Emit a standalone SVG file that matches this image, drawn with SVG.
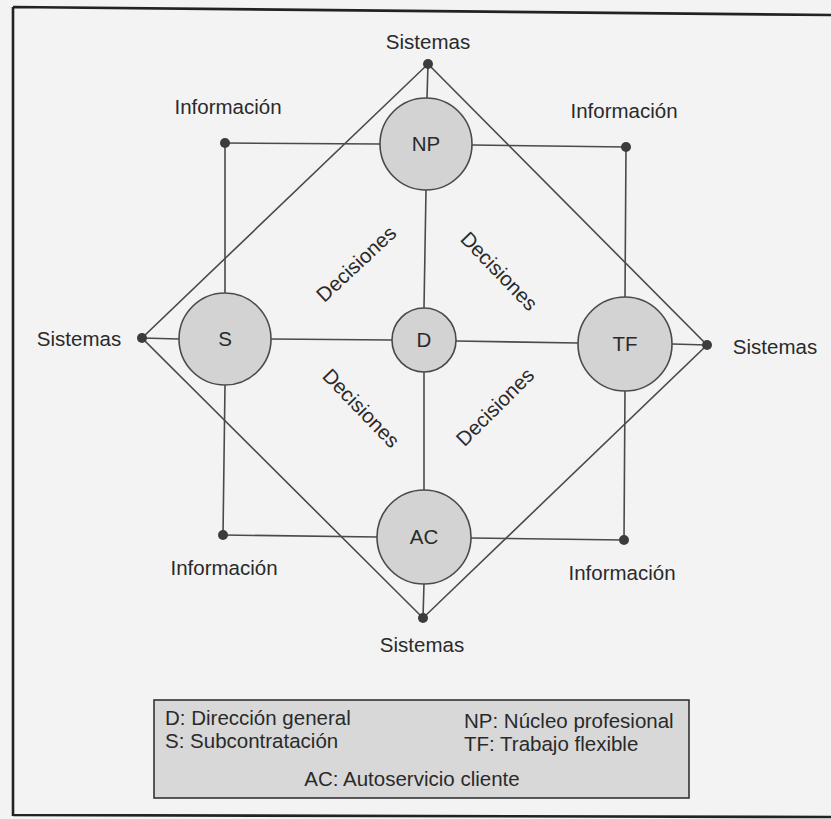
<svg xmlns="http://www.w3.org/2000/svg" width="831" height="819" viewBox="0 0 831 819">
  <style>
    .ln { stroke: #4a4a4a; stroke-width: 1.6; fill: none; }
    .frame { stroke: #222; stroke-width: 2.6; fill: none; }
    .node { fill: #d3d3d3; stroke: #4a4a4a; stroke-width: 1.6; }
    .dot { fill: #3c3c3c; }
    .lbl { font-family: "Liberation Sans", Arial, sans-serif; font-size: 20.5px; fill: #2a2a2a; }
    .mid { text-anchor: middle; }
    .legend { fill: #d8d8d8; stroke: #333; stroke-width: 1.6; }
  </style>

  <!-- page -->
  <rect x="0" y="0" width="831" height="819" fill="#f3f3f3"/>
  <path class="frame" d="M13 7 L831 15 M13 7 L13 816 M13 815 L831 817"/>

  <!-- connectors -->
  <g id="connectors">
    <!-- outer diamond between the four Sistemas points -->
    <polygon class="ln" points="428,64 707,345 423,618 142,338"/>
    <!-- central vertical axis -->
    <path class="ln" d="M428 64 L427 98 M426 190 L424 308 M424 372 L424 491 M424 583 L423 618"/>
    <!-- central horizontal axis -->
    <path class="ln" d="M142 338 L179 339 M271 339 L392 340 M456 341 L578 343 M672 344 L707 345"/>
    <!-- information loop -->
    <path class="ln" d="M225 143 L380 144 M472 145 L626 147"/>
    <path class="ln" d="M225 143 L225 293 M225 385 L223 535"/>
    <path class="ln" d="M626 147 L625 298 M625 390 L624 540"/>
    <path class="ln" d="M223 535 L377 537 M471 538 L624 540"/>
  </g>

  <!-- Sistemas points -->
  <g id="sis-top"><circle class="dot" cx="428" cy="64" r="5"/><text class="lbl mid" x="428" y="49">Sistemas</text></g>
  <g id="sis-left"><circle class="dot" cx="142" cy="338" r="5"/><text class="lbl mid" x="79" y="346">Sistemas</text></g>
  <g id="sis-right"><circle class="dot" cx="707" cy="345" r="5"/><text class="lbl mid" x="775" y="354">Sistemas</text></g>
  <g id="sis-bottom"><circle class="dot" cx="423" cy="618" r="5"/><text class="lbl mid" x="422" y="652">Sistemas</text></g>

  <!-- Información points -->
  <g id="inf-tl"><circle class="dot" cx="225" cy="143" r="5"/><text class="lbl mid" x="228" y="114">Información</text></g>
  <g id="inf-tr"><circle class="dot" cx="626" cy="147" r="5"/><text class="lbl mid" x="624" y="118">Información</text></g>
  <g id="inf-bl"><circle class="dot" cx="223" cy="535" r="5"/><text class="lbl mid" x="224" y="575">Información</text></g>
  <g id="inf-br"><circle class="dot" cx="624" cy="540" r="5"/><text class="lbl mid" x="622" y="580">Información</text></g>

  <!-- Decisiones labels -->
  <g id="dec-labels">
    <text class="lbl mid" transform="translate(361 269) rotate(-43)">Decisiones</text>
    <text class="lbl mid" transform="translate(494 276) rotate(46)">Decisiones</text>
    <text class="lbl mid" transform="translate(356 413) rotate(46)">Decisiones</text>
    <text class="lbl mid" transform="translate(500 412) rotate(-45)">Decisiones</text>
  </g>

  <!-- nodes -->
  <g id="NP"><circle class="node" cx="426" cy="144" r="46"/><text class="lbl mid" x="426" y="151">NP</text></g>
  <g id="S"><circle class="node" cx="225" cy="339" r="46"/><text class="lbl mid" x="225" y="346">S</text></g>
  <g id="D"><circle class="node" cx="424" cy="340" r="32"/><text class="lbl mid" x="424" y="347">D</text></g>
  <g id="TF"><circle class="node" cx="625" cy="344" r="47"/><text class="lbl mid" x="625" y="351">TF</text></g>
  <g id="AC"><circle class="node" cx="424" cy="537" r="47"/><text class="lbl mid" x="424" y="544">AC</text></g>

  <!-- legend -->
  <g id="legend">
    <rect class="legend" x="154" y="700" width="535" height="98"/>
    <text class="lbl" x="165" y="725">D: Dirección general</text>
    <text class="lbl" x="165" y="748">S: Subcontratación</text>
    <text class="lbl" x="464" y="728">NP: Núcleo profesional</text>
    <text class="lbl" x="464" y="751">TF: Trabajo flexible</text>
    <text class="lbl mid" x="412" y="786">AC: Autoservicio cliente</text>
  </g>
</svg>
